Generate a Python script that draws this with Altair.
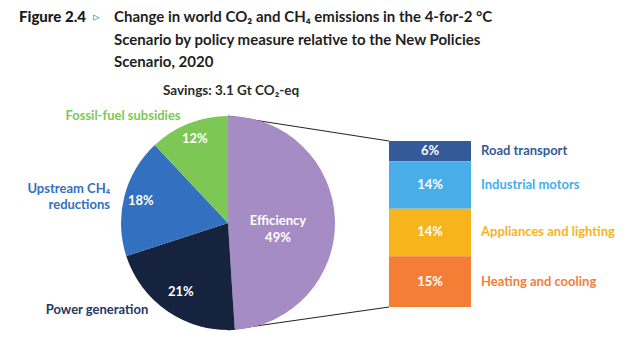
import altair as alt
import pandas as pd
import math

# ---- data ----
pie_cats = ["Efficiency", "Power generation", "Upstream CH4 reductions", "Fossil-fuel subsidies"]
pie_vals = [49, 21, 18, 12]
pie_text = ["Efficiency\n49%", "21%", "18%", "12%"]

bar_cats = ["Road transport", "Industrial motors", "Appliances and lighting", "Heating and cooling"]
bar_vals = [6, 14, 14, 15]

# ---- styles / layout ----
pie_colors = ["#A68CC5", "#15233F", "#3470C0", "#7DC854"]
bar_colors = ["#345A9A", "#49AEE8", "#F7B41D", "#F47E36"]
pie_label_radius = [50, 84, 90, 90]
FONT = "Lato"
CX, CY, R = 228, 223, 107
BX0, BX1 = 389, 471

pc = [0]
for v in pie_vals:
    pc.append(pc[-1] + v)
pie_df = pd.DataFrame({
    "cat": pie_cats, "val": pie_vals, "txt": pie_text,
    "s": pc[:-1], "e": pc[1:],
    "m": [(a + b) / 2 for a, b in zip(pc[:-1], pc[1:])],
    "lr": pie_label_radius,
})
cum = [0]
for v in bar_vals:
    cum.append(cum[-1] + v)
bar_df = pd.DataFrame({
    "cat": bar_cats, "val": bar_vals,
    "start": cum[:-1], "end": cum[1:],
    "mid": [(a + b) / 2 for a, b in zip(cum[:-1], cum[1:])],
    "pct": [f"{v}%" for v in bar_vals],
})

color_scale = alt.Scale(domain=pie_cats + bar_cats, range=pie_colors + bar_colors)
yscale = alt.Scale(domain=[0, sum(bar_vals)], range=[141, 307])
tscale = alt.Scale(domain=[0, sum(pie_vals)], range=[0, 2 * math.pi])

base_pie = alt.Chart(pie_df)
pie = base_pie.mark_arc(outerRadius=R).encode(
    theta=alt.Theta("s:Q", scale=tscale, stack=None),
    theta2="e:Q",
    color=alt.Color("cat:N", scale=color_scale, legend=None),
    x=alt.value(CX), y=alt.value(CY),
)
pie_txt = base_pie.mark_text(font=FONT, fontWeight="bold", fontSize=13, color="white",
                             lineBreak="\n", lineHeight=17, baseline="middle", align="center").encode(
    theta=alt.Theta("m:Q", scale=tscale, stack=None),
    radius=alt.Radius("lr:Q", scale=None),
    text="txt:N",
    x=alt.value(CX), y=alt.value(CY),
)

base_bar = alt.Chart(bar_df)
bar = base_bar.mark_bar().encode(
    x=alt.value(BX0), x2=alt.value(BX1),
    y=alt.Y("start:Q", scale=yscale, axis=None), y2="end:Q",
    color=alt.Color("cat:N", scale=color_scale, legend=None),
)
bar_pct = base_bar.mark_text(font=FONT, fontWeight="bold", fontSize=13, color="white").encode(
    x=alt.value((BX0 + BX1) / 2),
    y=alt.Y("mid:Q", scale=yscale, axis=None),
    text="pct:N",
)
bar_lab = base_bar.mark_text(font=FONT, fontWeight="bold", fontSize=13, align="left").encode(
    x=alt.value(481),
    y=alt.Y("mid:Q", scale=yscale, axis=None),
    text="cat:N",
    color=alt.Color("cat:N", scale=color_scale, legend=None),
)

# connector lines
conn_df = pd.DataFrame({"k": ["top", "bottom"]})
line_top = alt.Chart(conn_df.iloc[:1]).mark_rule(color="#222", strokeWidth=1).encode(
    x=alt.value(CX), y=alt.value(CY - R), x2=alt.value(BX0), y2=alt.value(141))
line_bot = alt.Chart(conn_df.iloc[1:]).mark_rule(color="#222", strokeWidth=1).encode(
    x=alt.value(CX), y=alt.value(CY + R), x2=alt.value(BX0), y2=alt.value(307))

def txt(s, x, y, color, size=13, weight="bold", align="left", font=FONT):
    return alt.Chart(pd.DataFrame({"t": [s]})).mark_text(
        font=font, fontSize=size, fontWeight=weight, color=color, align=align, baseline="middle"
    ).encode(text="t:N", x=alt.value(x), y=alt.value(y))

annots = [
    txt("Figure 2.4", 19, 17, "#1a1a1a", size=15, weight=900),
    txt("▹", 93, 17, "#4A8FCB", size=13, weight="normal", font="DejaVu Sans"),
    txt("Change in world CO₂ and CH₄ emissions in the 4-for-2 °C", 114, 17, "#1f1f1f", size=15),
    txt("Scenario by policy measure relative to the New Policies", 114, 40, "#1f1f1f", size=15),
    txt("Scenario, 2020", 114, 62, "#1f1f1f", size=15),
    txt("Savings: 3.1 Gt CO₂-eq", 231, 91, "#2a2a2a", size=13.5, align="center"),
    txt("Fossil-fuel subsidies", 123, 116, "#7DC854", align="center"),
    txt("Upstream CH₄", 110, 189, "#3470C0", align="right"),
    txt("reductions", 110, 205, "#3470C0", align="right"),
    txt("Power generation", 97, 310, "#1F3864", align="center"),
]

chart = alt.layer(line_top, line_bot, pie, pie_txt, bar, bar_pct, bar_lab, *annots).properties(
    width=640, height=348, padding=0, autosize="none", background="white"
).configure_view(stroke=None)

chart.save("out.html", embed_options={"renderer": "svg", "actions": False})
